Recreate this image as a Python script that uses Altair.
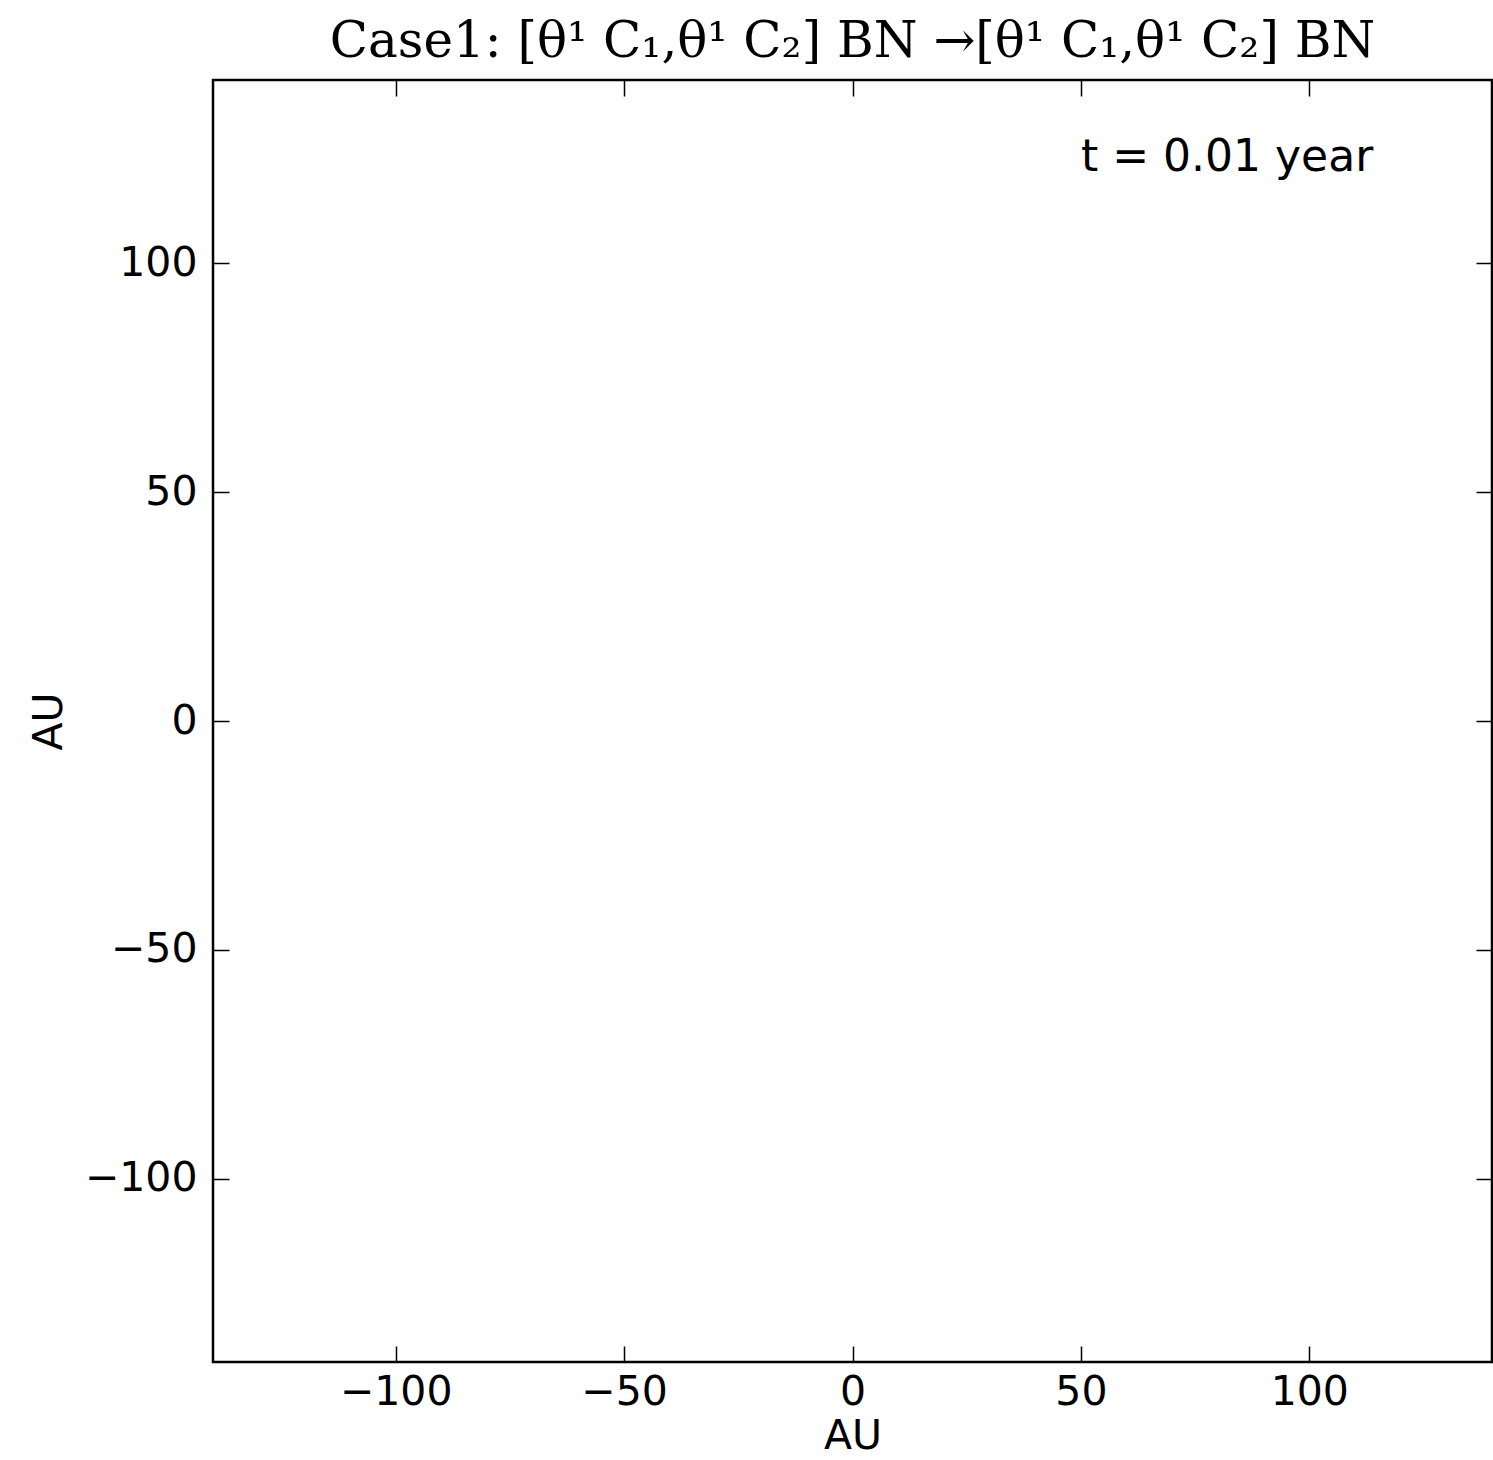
import altair as alt
import pandas as pd

# Axis extents and ticks (AU)
x_domain = [-140, 140]
y_domain = [-140, 140]
tick_values = [-100, -50, 0, 50, 100]

# Annotation
ann_text = ["t = 0.01 year"]
ann_x = [114]
ann_y = [123]

title_text = "Case1: [θ¹ C₁,θ¹ C₂] BN →[θ¹ C₁,θ¹ C₂] BN"

df = pd.DataFrame({"x": ann_x, "y": ann_y, "label": ann_text})

FONT = "DejaVu Sans"
TICK = 16

base = alt.Chart(df)

main = base.mark_text(
    align="right", baseline="middle", font=FONT, fontSize=44, color="black"
).encode(
    x=alt.X("x:Q", scale=alt.Scale(domain=x_domain, nice=False, zero=False),
            axis=alt.Axis(orient="bottom", values=tick_values, title="AU",
                          offset=-TICK, tickSize=TICK, labelPadding=10,
                          titlePadding=4, domain=False, grid=False)),
    y=alt.Y("y:Q", scale=alt.Scale(domain=y_domain, nice=False, zero=False),
            axis=alt.Axis(orient="left", values=tick_values, title="AU",
                          offset=-TICK, tickSize=TICK, labelPadding=16,
                          titlePadding=14, domain=False, grid=False)),
    text="label:N",
)

mirror = base.mark_point(opacity=0).encode(
    x=alt.X("x:Q", scale=alt.Scale(domain=x_domain, nice=False, zero=False),
            axis=alt.Axis(orient="top", values=tick_values, title=None,
                          labels=False, offset=-TICK, tickSize=TICK,
                          domain=False, grid=False)),
    y=alt.Y("y:Q", scale=alt.Scale(domain=y_domain, nice=False, zero=False),
            axis=alt.Axis(orient="right", values=tick_values, title=None,
                          labels=False, offset=-TICK, tickSize=TICK,
                          domain=False, grid=False)),
)

chart = alt.layer(main, mirror).resolve_axis(
    x="independent", y="independent"
).properties(
    width=1279,
    height=1282,
    autosize=alt.AutoSizeParams(type="none"),
    padding={"left": 213, "top": 80, "right": 1, "bottom": 98},
    title=alt.TitleParams(text=title_text, font="DejaVu Serif", fontSize=50,
                          fontWeight="normal", color="black", anchor="middle",
                          offset=12),
    background="white",
).configure_view(
    stroke="black", strokeWidth=2.5
).configure_axis(
    labelFont=FONT, labelFontSize=41, labelColor="black",
    titleFont=FONT, titleFontSize=41, titleColor="black", titleFontWeight="normal",
    tickColor="black", tickWidth=1.5,
)

chart.save("out.html", embed_options={"renderer": "svg", "actions": False})
